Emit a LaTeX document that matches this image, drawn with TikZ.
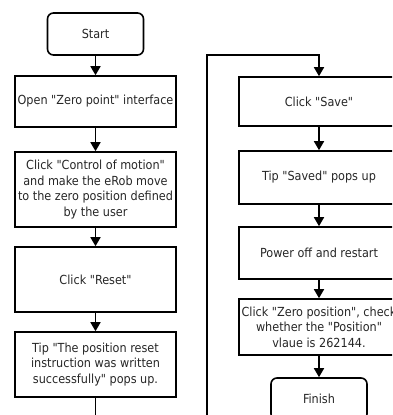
\documentclass[tikz,border=0pt]{standalone}
\usepackage{fontspec}
\IfFontExistsTF{DejaVu Sans Condensed}{\setmainfont{DejaVu Sans Condensed}[Ligatures=TeXOff]}{\setmainfont{DejaVu Sans}[Ligatures=TeXOff]}
\usetikzlibrary{arrows.meta}
\begin{document}
\begin{tikzpicture}[x=1pt,y=-1pt,
  every node/.style={font=\fontsize{12.5}{15.5}\selectfont, text=black!85, align=center, inner sep=0pt},
  procbox/.style={draw, line width=1.6pt, minimum width=161pt},
  termbox/.style={draw, line width=1.6pt, rounded corners=6pt, minimum width=96pt, minimum height=42pt},
  flow/.style={line width=1.6pt, -{Triangle[width=10pt,length=9pt]}},
  wire/.style={line width=1.6pt}]
  \path[use as bounding box, clip] (0,0) rectangle (392,415);

  % left column
  \node[termbox] (start) at (95.5,34) {Start};
  \node[procbox, minimum height=51pt] (open) at (95.5,101.5) {Open "Zero point" interface};
  \node[procbox, minimum height=75pt] (move) at (95.5,189.5) {Click "Control of motion"\\and make the eRob move\\to the zero position defined\\by the user};
  \node[procbox, minimum height=65pt] (reset) at (95.5,279.5) {Click "Reset"};
  \node[procbox, minimum height=65pt] (tipreset) at (95.5,364.5) {Tip "The position reset\\instruction was written\\successfully" pops up.};

  % right column
  \node[procbox, minimum width=160pt, minimum height=49pt] (save) at (319,101.5) {Click "Save"};
  \node[procbox, minimum width=160pt, minimum height=53pt] (saved) at (319,177.5) {Tip "Saved" pops up};
  \node[procbox, minimum width=160pt, minimum height=52pt] (power) at (319,253) {Power off and restart};
  \node[procbox, minimum width=160pt, minimum height=56pt] (check) at (319,327) {Click "Zero position", check\\whether the "Position"\\vlaue is 262144.};
  \node[termbox] (finish) at (319,399) {Finish};

  % connectors
  \coordinate (leftout) at (95.5,420);
  \coordinate (rightin) at (207,420);
  \coordinate (corner) at (207,55);
  \draw[flow] (start) -- (open);
  \draw[flow] (open) -- (move);
  \draw[flow] (move) -- (reset);
  \draw[flow] (reset) -- (tipreset);
  \draw[wire] (tipreset) -- (leftout);
  \draw[flow] (rightin) -- (corner) -| (save);
  \draw[flow] (save) -- (saved);
  \draw[flow] (saved) -- (power);
  \draw[flow] (power) -- (check);
  \draw[flow] (check) -- (finish);
\end{tikzpicture}
\end{document}
